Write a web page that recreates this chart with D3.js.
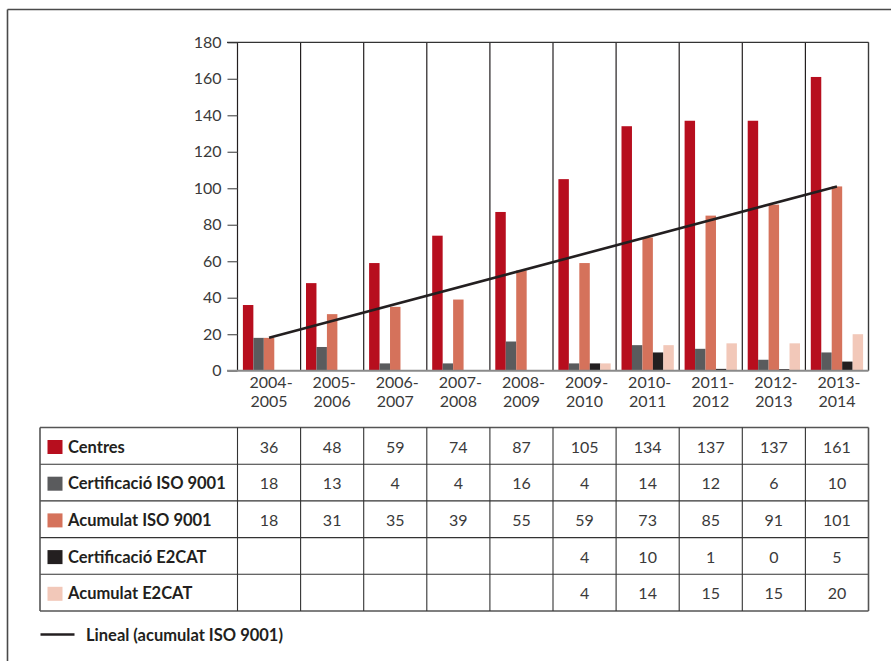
<!DOCTYPE html>
<html><head><meta charset="utf-8">
<script src="https://cdn.jsdelivr.net/npm/d3@7/dist/d3.min.js"></script>
<style>html,body{margin:0;padding:0;background:#fff;}svg{display:block;}</style>
</head><body>
<script>
const categories = [["2004-","2005"],["2005-","2006"],["2006-","2007"],["2007-","2008"],["2008-","2009"],["2009-","2010"],["2010-","2011"],["2011-","2012"],["2012-","2013"],["2013-","2014"]];
const seriesNames = ["Centres","Certificació ISO 9001","Acumulat ISO 9001","Certificació E2CAT","Acumulat E2CAT"];
const seriesColors = ["#b70e1e","#5a5b5d","#d5725b","#231f20","#f2c8b9"];
const centres = [36,48,59,74,87,105,134,137,137,161];
const certISO = [18,13,4,4,16,4,14,12,6,10];
const acumISO = [18,31,35,39,55,59,73,85,91,101];
const certE2CAT = [null,null,null,null,null,4,10,1,0,5];
const acumE2CAT = [null,null,null,null,null,4,14,15,15,20];
const trendEnds = [18,101];
const yTicks = [0,20,40,60,80,100,120,140,160,180];
const trendLabel = "Lineal (acumulat ISO 9001)";

const values = [centres, certISO, acumISO, certE2CAT, acumE2CAT];
const W = 891, H = 661;
const svg = d3.select("body").append("svg").attr("width", W).attr("height", H);
const font = "Lato, 'Open Sans', sans-serif";

// frame
svg.append("line").attr("x1",7.5).attr("x2",W).attr("y1",9.5).attr("y2",9.5).attr("stroke","#4a4a4a").attr("stroke-width",1.6);
svg.append("line").attr("x1",7.5).attr("x2",7.5).attr("y1",9.5).attr("y2",H).attr("stroke","#4a4a4a").attr("stroke-width",1.6);

const catKeys = categories.map(c => c.join(""));
const x0 = d3.scaleBand().domain(catKeys).range([237.5, 868.5]).padding(0);
const bw = x0.bandwidth();
const x1 = d3.scaleBand().domain(seriesNames).range([5.4, bw - 5.4]).padding(0);
const y = d3.scaleLinear().domain([0,180]).range([370.7, 42.3]);

const g = svg.append("g");

// bars
catKeys.forEach((c, i) => {
  seriesNames.forEach((s, j) => {
    const v = values[j][i];
    if (v === null) return;
    const h = Math.max(y(0) - y(v), v === 0 ? 1.5 : 0);
    g.append("rect")
      .attr("x", x0(c) + x1(s))
      .attr("width", x1.bandwidth())
      .attr("y", y(0) - h)
      .attr("height", h)
      .attr("fill", seriesColors[j]);
  });
});

// vertical separators
catKeys.forEach(c => {
  g.append("line").attr("x1", x0(c)).attr("x2", x0(c)).attr("y1", y(180)).attr("y2", y(0)).attr("stroke","#231f20").attr("stroke-width",1.2);
});
g.append("line").attr("x1", x0.range()[1]).attr("x2", x0.range()[1]).attr("y1", y(180)).attr("y2", y(0)).attr("stroke","#3a3a3a").attr("stroke-width",1.4);

// y axis
const yAxis = d3.axisLeft(y).tickValues(yTicks).tickSize(10).tickPadding(6).tickFormat(d3.format("d"));
const ya = svg.append("g").attr("transform", `translate(${x0.range()[0]},0)`).call(yAxis);
ya.select(".domain").remove();
ya.selectAll(".tick line").attr("stroke","#555").attr("stroke-width",1.2);
ya.selectAll(".tick text").attr("font-family", font).attr("font-size", 16).attr("fill","#3a3a3a");

// top line and baseline
svg.append("line").attr("x1", 227).attr("x2", 868.5).attr("y1", y(180)).attr("y2", y(180)).attr("stroke","#333").attr("stroke-width",1.2);
svg.append("line").attr("x1", 227).attr("x2", 868.5).attr("y1", y(0)).attr("y2", y(0)).attr("stroke","#8a8a8a").attr("stroke-width",2);

// x labels
const xAxis = d3.axisBottom(x0).tickSize(0).tickFormat("");
const xa = svg.append("g").attr("transform", `translate(0,${y(0)})`).call(xAxis);
xa.select(".domain").remove();
xa.selectAll(".tick").each(function(d, i) {
  const t = d3.select(this).append("text").attr("font-family", font).attr("font-size", 16).attr("fill","#3a3a3a").attr("text-anchor","middle");
  t.append("tspan").attr("x", 2).attr("y", 17).text(categories[i][0]);
  t.append("tspan").attr("x", 0).attr("y", 36).text(categories[i][1]);
});

// trend line
const cx = i => x0(catKeys[i]) + x1(seriesNames[2]) + x1.bandwidth()/2;
svg.append("line")
  .attr("x1", cx(0)).attr("y1", y(trendEnds[0]))
  .attr("x2", cx(catKeys.length-1)).attr("y2", y(trendEnds[1]))
  .attr("stroke","#231f20").attr("stroke-width",2.6);

// table
const tTop = 427.5, rowH = 36.7, tLeft = 40;
const tRight = x0.range()[1];
const tb = svg.append("g");
seriesNames.forEach((s, j) => {
  const ry = tTop + j*rowH;
  tb.append("rect").attr("x", 47.5).attr("y", ry + 12.5).attr("width", 15).attr("height", 14).attr("fill", seriesColors[j]);
  tb.append("text").attr("x", 68).attr("y", ry + 25).attr("font-family", font).attr("font-weight","bold").attr("font-size", 16.5).attr("fill","#231f20").text(s);
  catKeys.forEach((c, i) => {
    const v = values[j][i];
    if (v === null) return;
    tb.append("text").attr("x", x0(c) + bw/2).attr("y", ry + 25).attr("text-anchor","middle").attr("font-family", font).attr("font-size", 16).attr("fill","#3a3a3a").text(v);
  });
});
for (let j = 0; j <= seriesNames.length; j++) {
  tb.append("line").attr("x1", tLeft).attr("x2", tRight).attr("y1", tTop + j*rowH).attr("y2", tTop + j*rowH)
    .attr("stroke", (j===0||j===seriesNames.length) ? "#555" : "#333").attr("stroke-width", (j===0||j===seriesNames.length)?1.6:1.1);
}
[tLeft].concat(catKeys.map(c => x0(c))).concat([tRight]).forEach((xx, k, arr) => {
  const edge = k===0 || k===arr.length-1;
  tb.append("line").attr("x1", xx).attr("x2", xx).attr("y1", tTop).attr("y2", tTop + seriesNames.length*rowH)
    .attr("stroke", edge ? "#555" : "#333").attr("stroke-width", edge ? 1.6 : 1.1);
});

// bottom legend
svg.append("line").attr("x1", 40.5).attr("x2", 74.5).attr("y1", 634.5).attr("y2", 634.5).attr("stroke","#231f20").attr("stroke-width",2.6);
svg.append("text").attr("x", 86).attr("y", 640.5).attr("font-family", font).attr("font-weight","bold").attr("font-size", 16.5).attr("fill","#231f20").text(trendLabel);
</script>
</body></html>
